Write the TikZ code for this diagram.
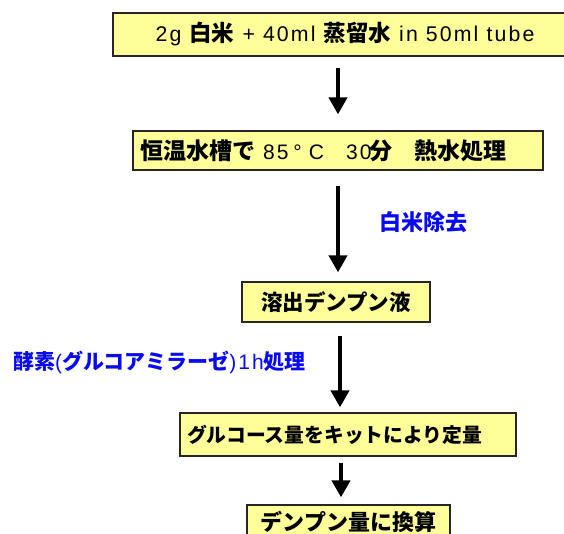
\documentclass[tikz,border=0pt]{standalone}
\usepackage{fontspec}
\setmainfont{Liberation Sans}[LetterSpace=10]
\newfontfamily\jpfont{Noto Sans CJK JP}
\newcommand\J[1]{{\jpfont\bfseries #1}}
\newcommand\JJ[2]{{\fontsize{#1}{24}\selectfont\jpfont\bfseries #2}}
\usetikzlibrary{arrows.meta}
\definecolor{boxfill}{RGB}{255,255,153}
\definecolor{lblue}{RGB}{10,10,240}
\tikzset{
  stepbox/.style={draw=black!85, line width=1.3pt, fill=boxfill, inner sep=0pt, minimum height=40pt,
    font=\fontsize{21.5}{24}\selectfont},
  flowarr/.style={line width=4pt, -{Triangle[width=18pt,length=17pt]}},
  bluelbl/.style={text=lblue, font=\fontsize{21.5}{24}\selectfont, inner sep=0pt}
}
\begin{document}
\begin{tikzpicture}[x=1pt,y=-1pt]
\useasboundingbox (0,0) rectangle (564,534);
\node[stepbox, minimum width=464pt, minimum height=43pt, font=\fontsize{21.3}{24}\selectfont] (B1) at (345,34.5)
  {2g \JJ{22.5}{白米} + 40ml \JJ{22.5}{蒸留水} in 50ml tube};
\node[stepbox, minimum width=410pt, minimum height=39pt, text width=396pt, align=left, font=\fontsize{21}{24}\selectfont] (B2) at (338,150.5)
  {\JJ{23}{恒温水槽で}\hspace{8pt}85\hspace{5pt}°\hspace{7pt}C\hspace{22pt}30\hspace{-2pt}\JJ{23}{分}\hspace{22pt}\JJ{23}{熱水処理}};
\node[stepbox, minimum width=188pt, minimum height=40pt] (B3) at (336,302) {\J{溶出デンプン液}};
\node[stepbox, minimum width=336pt, minimum height=43pt, text width=322pt, align=left, font=\fontsize{19.8}{24}\selectfont] (B4) at (348,434.5) {\J{グルコース量をキットにより定量}};
\node[stepbox, minimum width=203pt, minimum height=34pt, font=\fontsize{22}{24}\selectfont] (B5) at (348.5,522) {\J{デンプン量に換算}};
\draw[flowarr] ([xshift=-7pt,yshift=-11pt]B1.south) -- ([yshift=16pt]B2.north);
\draw[flowarr] ([yshift=-15pt]B2.south) -- ([xshift=2pt,yshift=9pt]B3.north);
\draw[flowarr] ([xshift=4pt,yshift=-13pt]B3.south) -- ([xshift=-8pt,yshift=5pt]B4.north);
\draw[flowarr] ([xshift=-7pt,yshift=-6pt]B4.south) -- ([xshift=-7.5pt,yshift=7pt]B5.north);
\node[bluelbl, font=\fontsize{22}{24}\selectfont] (L1) at (423,222) {\J{白米除去}};
\node[bluelbl, anchor=west, font=\fontsize{21}{24}\selectfont] (L2) at (13,362) {\J{酵素}(\J{グルコアミラーゼ})1h\J{処理}};
\end{tikzpicture}
\end{document}
